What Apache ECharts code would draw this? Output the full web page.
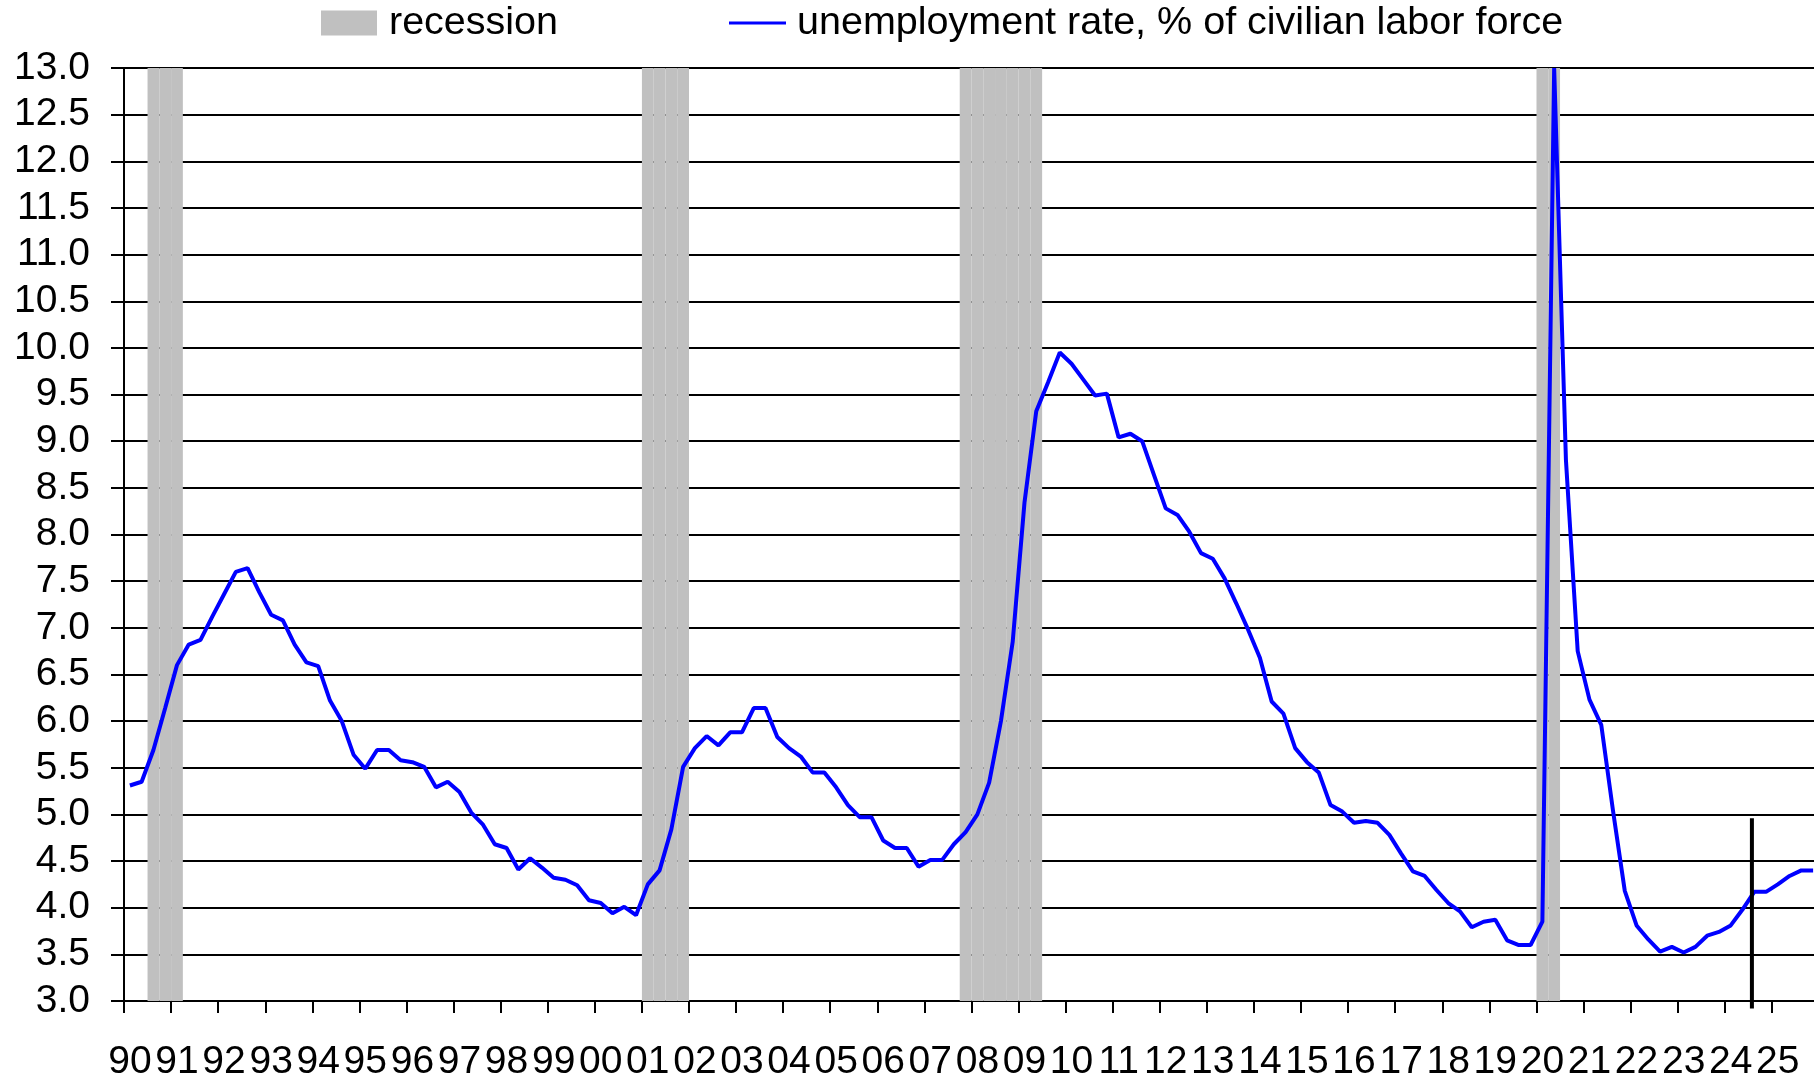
<!DOCTYPE html>
<html>
<head>
<meta charset="utf-8">
<script src="https://cdn.jsdelivr.net/npm/echarts@6/dist/echarts.min.js"></script>
<style>
html,body{margin:0;padding:0;background:#fff;}
#chart{width:1814px;height:1078px;}
</style>
</head>
<body>
<div id="chart"></div>
<script>
// Quarters 1990Q1 .. 2025Q4
const years = [];
for (let y = 1990; y <= 2025; y++) years.push(y);
const quarters = [];
years.forEach(y => { for (let q = 1; q <= 4; q++) quarters.push(y + 'Q' + q); });

// Unemployment rate, % of civilian labor force (quarterly)
const unemployment = [
  5.31, 5.35, 5.69, 6.14,
  6.60, 6.82, 6.87, 7.12,
  7.36, 7.60, 7.64, 7.38,
  7.14, 7.08, 6.82, 6.63,
  6.59, 6.22, 6.00, 5.64,
  5.49, 5.69, 5.69, 5.58,
  5.56, 5.51, 5.29, 5.35,
  5.24, 5.02, 4.89, 4.68,
  4.64, 4.41, 4.53, 4.43,
  4.32, 4.30, 4.24, 4.08,
  4.05, 3.94, 4.01, 3.92,
  4.25, 4.40, 4.84, 5.51,
  5.71, 5.84, 5.74, 5.88,
  5.88, 6.14, 6.14, 5.83,
  5.71, 5.62, 5.45, 5.45,
  5.29, 5.10, 4.97, 4.97,
  4.72, 4.64, 4.64, 4.44,
  4.51, 4.51, 4.68, 4.81,
  5.00, 5.34, 6.00, 6.85,
  8.34, 9.32, 9.63, 9.95,
  9.83, 9.66, 9.49, 9.51,
  9.04, 9.08, 9.00, 8.64,
  8.28, 8.21, 8.03, 7.80,
  7.74, 7.53, 7.26, 6.98,
  6.68, 6.21, 6.08, 5.71,
  5.56, 5.45, 5.10, 5.03,
  4.91, 4.93, 4.91, 4.78,
  4.58, 4.39, 4.34, 4.19,
  4.05, 3.96, 3.79, 3.85,
  3.87, 3.65, 3.60, 3.60,
  3.85, 13.0, 8.80, 6.75,
  6.23, 5.96, 5.04, 4.18,
  3.81, 3.66, 3.53, 3.58,
  3.52, 3.58, 3.70, 3.74,
  3.81, 3.98, 4.17, 4.17,
  4.25, 4.34, 4.40, 4.40
];

// Recession quarters (NBER)
const recessionQuarters = [
  '1990Q3','1990Q4','1991Q1',
  '2001Q1','2001Q2','2001Q3','2001Q4',
  '2007Q4','2008Q1','2008Q2','2008Q3','2008Q4','2009Q1','2009Q2',
  '2020Q1','2020Q2'
];
const recession = quarters.map(q => recessionQuarters.indexOf(q) >= 0 ? 1 : '-');

// Forecast marker (quarter index from 1990Q1, value range)
const forecastMarker = [[138.3, 2.92], [138.3, 4.96]];

// Y ticks
const yMin = 3.0, yMax = 13.0, yStep = 0.5;

const seriesNames = ['recession', 'unemployment rate, % of civilian labor force'];

const FONT = "'Liberation Sans', Arial, sans-serif";

const chart = echarts.init(document.getElementById('chart'), null, {renderer: 'canvas'});
chart.setOption({
  animation: false,
  backgroundColor: '#ffffff',
  legend: [
    {
      data: [seriesNames[0]],
      left: 321,
      top: 3,
      padding: 0,
      icon: 'rect',
      itemWidth: 56,
      itemHeight: 25,
      textStyle: {fontFamily: FONT, fontSize: 39.5, color: '#000', padding: [0, 0, 0, 7]}
    },
    {
      data: [seriesNames[1]],
      left: 729,
      top: 3,
      padding: 0,
      icon: 'rect',
      itemWidth: 57,
      itemHeight: 3,
      textStyle: {fontFamily: FONT, fontSize: 39.5, color: '#000', padding: [0, 0, 0, 6]}
    }
  ],
  grid: {left: 124, right: -5, top: 68, bottom: 77, containLabel: false, outerBoundsMode: 'none'},
  xAxis: [
    {
      type: 'category',
      data: quarters,
      boundaryGap: true,
      axisLine: {show: true, lineStyle: {color: '#000', width: 2}},
      axisTick: {show: true, interval: 3, length: 12, alignWithLabel: false, lineStyle: {color: '#000', width: 2}},
      axisLabel: {
        interval: 3,
        margin: 42,
        fontFamily: FONT,
        fontSize: 39,
        color: '#000',
        formatter: v => v.substring(2, 4)
      },
      splitLine: {show: false}
    },
    {
      type: 'value',
      min: 0,
      max: quarters.length,
      show: false
    }
  ],
  yAxis: [
    {
      type: 'value',
      min: yMin,
      max: yMax,
      interval: yStep,
      axisLine: {show: true, lineStyle: {color: '#000', width: 2}},
      axisTick: {show: true, length: 13, lineStyle: {color: '#000', width: 2}},
      axisLabel: {
        margin: 34,
        fontFamily: FONT,
        fontSize: 39,
        color: '#000',
        formatter: v => v.toFixed(1)
      },
      splitLine: {show: true, lineStyle: {color: '#000', width: 2}}
    },
    {
      type: 'value',
      min: 0,
      max: 1,
      show: false
    }
  ],
  series: [
    {
      name: seriesNames[0],
      type: 'bar',
      xAxisIndex: 0,
      yAxisIndex: 1,
      data: recession,
      barCategoryGap: '0%',
      barGap: '0%',
      itemStyle: {color: '#C0C0C0'},
      silent: true,
      z: 2
    },
    {
      name: seriesNames[1],
      type: 'line',
      xAxisIndex: 0,
      yAxisIndex: 0,
      data: unemployment,
      symbol: 'none',
      lineStyle: {color: '#0000FF', width: 4},
      itemStyle: {color: '#0000FF'},
      z: 4
    },
    {
      name: 'forecast',
      type: 'line',
      xAxisIndex: 1,
      yAxisIndex: 0,
      data: forecastMarker,
      symbol: 'none',
      clip: false,
      lineStyle: {color: '#000', width: 4, cap: 'butt'},
      itemStyle: {color: '#000'},
      silent: true,
      z: 5
    }
  ]
});
</script>
</body>
</html>
